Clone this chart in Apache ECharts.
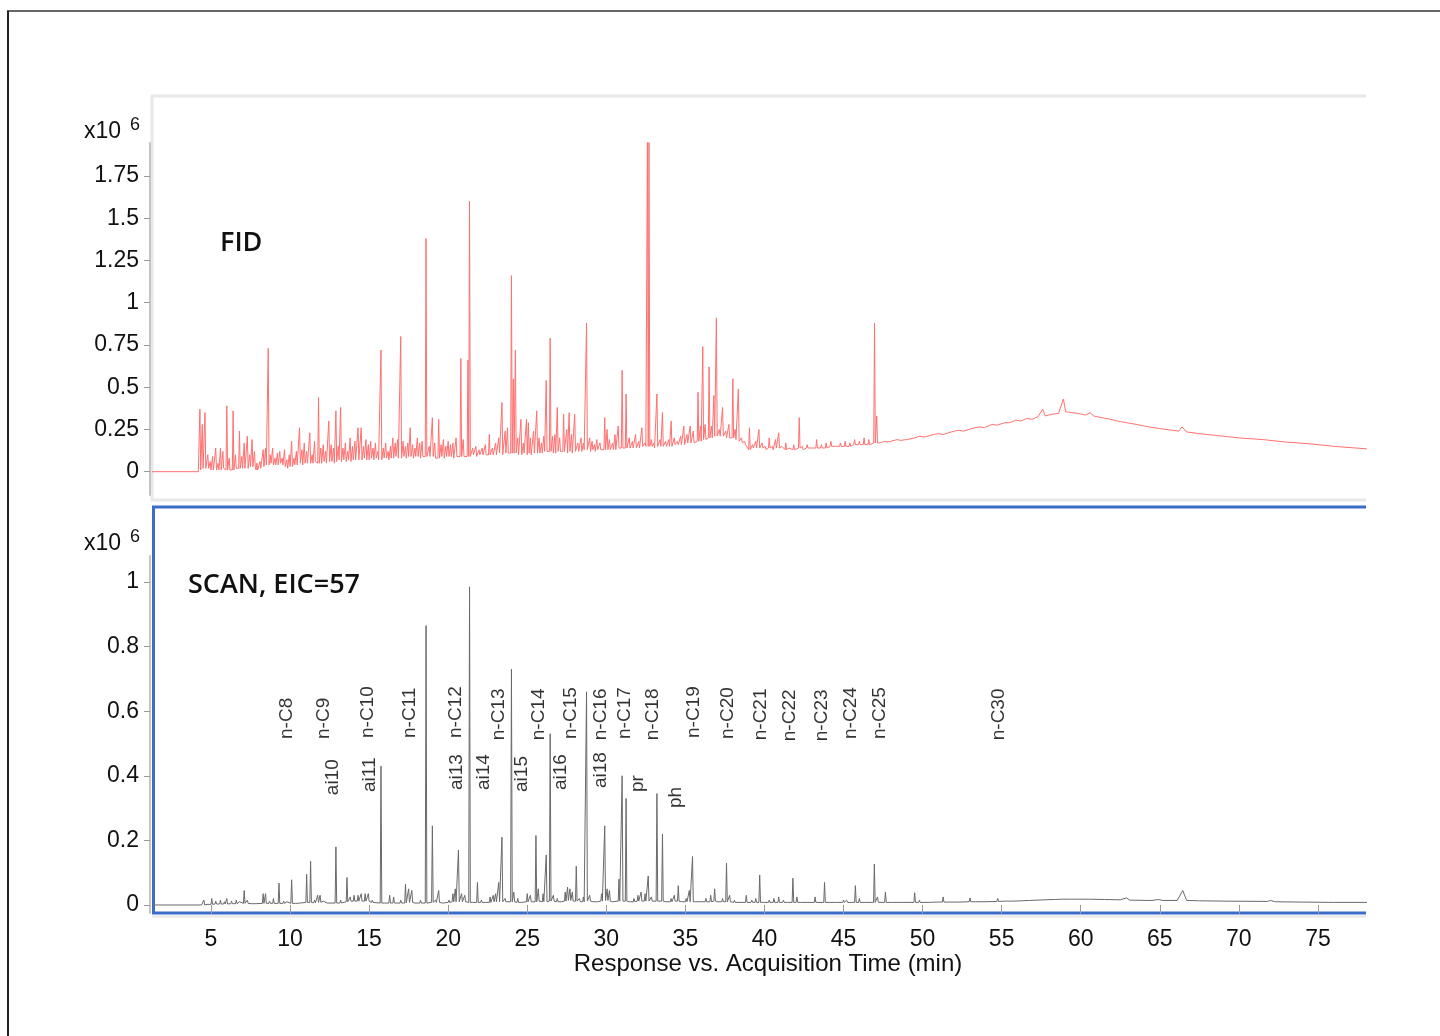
<!DOCTYPE html>
<html>
<head>
<meta charset="utf-8">
<title>FID / SCAN EIC=57</title>
<script src="https://cdn.jsdelivr.net/npm/echarts@6/dist/echarts.min.js"></script>
<style>
  html, body { margin: 0; padding: 0; background: #fff; }
  #chart { width: 1440px; height: 1036px; }
</style>
</head>
<body>
<div id="chart"></div>
<script>
// time axis (min)
const timeMin = 1.27;
const timeMax = 78.04;
const timeTicks = [5, 10, 15, 20, 25, 30, 35, 40, 45, 50, 55, 60, 65, 70, 75];
const fidTicks = [0, 0.25, 0.5, 0.75, 1, 1.25, 1.5, 1.75];
const scanTicks = [0, 0.2, 0.4, 0.6, 0.8, 1];

// FID trace: flat start, peaks [time, apex, base], slow hump after 47 min
const fidLead = [[1.27, 0], [4.2, 0]];
const fidPeaks = [
  [4.30, 0.37, 0.01], [4.45, 0.28, 0.02], [4.62, 0.35, 0.02], [4.80, 0.10, 0.02], [4.95, 0.06, 0.01],
  [5.10, 0.09, 0.01], [5.30, 0.14, 0.01], [5.45, 0.05, 0.01], [5.60, 0.14, 0.01], [5.75, 0.12, 0.02],
  [6.00, 0.39, 0.01], [6.15, 0.08, 0.01], [6.40, 0.36, 0.01], [6.55, 0.10, 0.02], [6.80, 0.24, 0.02],
  [6.95, 0.09, 0.02], [7.10, 0.17, 0.02], [7.30, 0.21, 0.02], [7.45, 0.10, 0.03], [7.60, 0.19, 0.03],
  [7.75, 0.12, 0.03], [7.90, 0.05, 0.01], [8.10, 0.06, 0.02], [8.30, 0.13, 0.03], [8.45, 0.14, 0.04],
  [8.62, 0.73, 0.04], [8.75, 0.10, 0.05], [8.90, 0.14, 0.04], [9.05, 0.08, 0.04], [9.20, 0.11, 0.04],
  [9.35, 0.12, 0.05], [9.50, 0.08, 0.04], [9.65, 0.13, 0.03], [9.80, 0.07, 0.02], [9.95, 0.10, 0.03],
  [10.10, 0.18, 0.03], [10.25, 0.08, 0.04], [10.40, 0.12, 0.04], [10.60, 0.26, 0.05], [10.75, 0.13, 0.04],
  [10.90, 0.17, 0.05], [11.05, 0.12, 0.05], [11.25, 0.23, 0.05], [11.40, 0.10, 0.05], [11.55, 0.18, 0.06],
  [11.80, 0.44, 0.05], [11.95, 0.14, 0.05], [12.10, 0.16, 0.06], [12.25, 0.12, 0.05], [12.45, 0.30, 0.06],
  [12.60, 0.16, 0.06], [12.75, 0.14, 0.05], [12.90, 0.36, 0.06], [13.05, 0.15, 0.07], [13.20, 0.38, 0.06],
  [13.35, 0.14, 0.07], [13.50, 0.17, 0.06], [13.65, 0.12, 0.07], [13.80, 0.20, 0.06], [13.95, 0.15, 0.07],
  [14.10, 0.18, 0.07], [14.30, 0.26, 0.07], [14.50, 0.26, 0.07], [14.65, 0.15, 0.08], [14.80, 0.19, 0.07],
  [14.95, 0.16, 0.07], [15.10, 0.18, 0.08], [15.25, 0.14, 0.07], [15.40, 0.17, 0.08], [15.55, 0.12, 0.07],
  [15.75, 0.72, 0.07], [15.90, 0.14, 0.08], [16.05, 0.17, 0.08], [16.20, 0.12, 0.07], [16.35, 0.15, 0.08],
  [16.50, 0.20, 0.08], [16.65, 0.17, 0.09], [16.80, 0.19, 0.08], [17.00, 0.80, 0.08], [17.15, 0.18, 0.09],
  [17.30, 0.15, 0.08], [17.45, 0.17, 0.09], [17.60, 0.26, 0.09], [17.75, 0.16, 0.08], [17.90, 0.14, 0.09],
  [18.05, 0.20, 0.09], [18.20, 0.17, 0.08], [18.35, 0.18, 0.09], [18.60, 1.38, 0.09], [18.80, 0.15, 0.09],
  [19.00, 0.32, 0.09], [19.15, 0.17, 0.08], [19.40, 0.31, 0.08], [19.55, 0.16, 0.09], [19.70, 0.19, 0.08],
  [19.85, 0.15, 0.09], [20.00, 0.18, 0.09], [20.15, 0.16, 0.09], [20.30, 0.17, 0.08], [20.50, 0.20, 0.09],
  [20.80, 0.67, 0.09], [20.95, 0.19, 0.09], [21.25, 0.66, 0.09], [21.35, 1.60, 0.09], [21.55, 0.14, 0.10],
  [21.75, 0.15, 0.09], [21.95, 0.13, 0.10], [22.15, 0.14, 0.10], [22.35, 0.16, 0.10], [22.60, 0.22, 0.10],
  [22.80, 0.14, 0.10], [23.00, 0.17, 0.10], [23.20, 0.20, 0.11], [23.40, 0.41, 0.10], [23.60, 0.24, 0.11],
  [23.75, 0.26, 0.11], [24.00, 1.16, 0.11], [24.12, 0.55, 0.11], [24.25, 0.72, 0.11], [24.40, 0.20, 0.10],
  [24.60, 0.31, 0.10], [24.75, 0.17, 0.11], [24.95, 0.31, 0.10], [25.07, 0.29, 0.11], [25.20, 0.20, 0.10],
  [25.40, 0.24, 0.11], [25.60, 0.36, 0.11], [25.75, 0.20, 0.11], [25.90, 0.17, 0.11], [26.05, 0.21, 0.12],
  [26.20, 0.54, 0.12], [26.45, 0.79, 0.12], [26.60, 0.21, 0.11], [26.75, 0.22, 0.11], [26.90, 0.38, 0.12],
  [27.05, 0.20, 0.12], [27.30, 0.34, 0.12], [27.50, 0.25, 0.11], [27.65, 0.35, 0.12], [27.80, 0.22, 0.11],
  [28.00, 0.34, 0.12], [28.20, 0.17, 0.12], [28.40, 0.20, 0.12], [28.55, 0.17, 0.13], [28.75, 0.88, 0.13],
  [28.95, 0.20, 0.12], [29.10, 0.18, 0.13], [29.25, 0.16, 0.12], [29.40, 0.19, 0.13], [29.60, 0.17, 0.13],
  [29.90, 0.32, 0.13], [30.05, 0.25, 0.13], [30.20, 0.19, 0.13], [30.40, 0.17, 0.13], [30.55, 0.22, 0.13],
  [30.75, 0.27, 0.14], [31.00, 0.60, 0.14], [31.25, 0.46, 0.14], [31.45, 0.20, 0.14], [31.65, 0.18, 0.14],
  [31.85, 0.22, 0.14], [32.05, 0.18, 0.14], [32.25, 0.26, 0.15], [32.45, 0.17, 0.15], [32.60, 1.97, 0.15],
  [32.70, 1.97, 0.15], [32.85, 0.19, 0.15], [33.00, 0.17, 0.14], [33.20, 0.46, 0.15], [33.40, 0.19, 0.15],
  [33.55, 0.35, 0.15], [33.75, 0.18, 0.15], [33.95, 0.19, 0.15], [34.10, 0.30, 0.15], [34.30, 0.20, 0.16],
  [34.50, 0.18, 0.16], [34.70, 0.21, 0.16], [34.90, 0.27, 0.16], [35.10, 0.22, 0.17], [35.30, 0.27, 0.17],
  [35.50, 0.24, 0.17], [35.80, 0.47, 0.18], [35.95, 0.27, 0.18], [36.10, 0.74, 0.19], [36.25, 0.28, 0.19],
  [36.50, 0.62, 0.20], [36.65, 0.27, 0.20], [36.80, 0.45, 0.21], [36.96, 0.91, 0.21], [37.15, 0.25, 0.21],
  [37.35, 0.38, 0.21], [37.55, 0.24, 0.20], [37.75, 0.28, 0.20], [38.00, 0.55, 0.20], [38.15, 0.25, 0.19],
  [38.35, 0.49, 0.18], [38.55, 0.20, 0.17], [38.75, 0.18, 0.16], [39.05, 0.26, 0.13], [39.25, 0.16, 0.14],
  [39.45, 0.18, 0.14], [39.65, 0.25, 0.14], [39.85, 0.17, 0.14], [40.05, 0.15, 0.13], [40.30, 0.20, 0.14],
  [40.50, 0.15, 0.13], [40.70, 0.19, 0.14], [40.90, 0.23, 0.14], [41.10, 0.15, 0.14], [41.35, 0.17, 0.13],
  [41.60, 0.15, 0.14], [41.85, 0.16, 0.13], [42.20, 0.32, 0.14], [42.40, 0.15, 0.13], [42.70, 0.16, 0.14],
  [43.00, 0.15, 0.14], [43.30, 0.19, 0.14], [43.60, 0.16, 0.14], [43.90, 0.17, 0.14], [44.20, 0.18, 0.15],
  [44.50, 0.16, 0.15], [44.80, 0.17, 0.15], [45.10, 0.18, 0.15], [45.40, 0.17, 0.15], [45.70, 0.19, 0.16],
  [46.00, 0.18, 0.16], [46.30, 0.20, 0.16], [46.60, 0.19, 0.16], [46.96, 0.88, 0.17], [47.10, 0.33, 0.17]
];
const fidTail = [
  [47.3, 0.17], [47.6, 0.18], [47.75, 0.175], [48.0, 0.18], [48.4, 0.19], [48.6, 0.185], [49.0, 0.19],
  [49.5, 0.20], [49.8, 0.21], [50.1, 0.205], [50.7, 0.22], [51.0, 0.225], [51.3, 0.22], [52.0, 0.24],
  [52.3, 0.245], [52.6, 0.24], [53.3, 0.26], [53.6, 0.265], [53.9, 0.26], [54.4, 0.28], [54.7, 0.275],
  [55.2, 0.29], [55.5, 0.29], [55.9, 0.305], [56.2, 0.30], [56.6, 0.315], [56.9, 0.31], [57.3, 0.325],
  [57.6, 0.37], [57.75, 0.33], [58.2, 0.34], [58.6, 0.345], [58.9, 0.43], [59.05, 0.355], [59.4, 0.35],
  [59.8, 0.345], [60.3, 0.335], [60.6, 0.35], [60.8, 0.33], [61.3, 0.32], [61.9, 0.31], [62.3, 0.30],
  [62.9, 0.29], [63.5, 0.28], [64.3, 0.265], [65.0, 0.255], [65.8, 0.245], [66.2, 0.24], [66.4, 0.265],
  [66.7, 0.235], [67.5, 0.225], [68.5, 0.215], [70.0, 0.20], [71.5, 0.19], [73.0, 0.175], [74.5, 0.165],
  [76.0, 0.15], [78.1, 0.135]
];

// SCAN EIC=57 trace
const scanLead = [[1.27, 0], [4.4, 0]];
const scanPeaks = [
  [4.55, 0.015, 0.0], [4.8, 0.008, 0.002], [5.05, 0.02, 0.002], [5.3, 0.012, 0.003], [5.6, 0.015, 0.003],
  [5.85, 0.01, 0.003], [6.0, 0.02, 0.003], [6.3, 0.012, 0.004], [6.6, 0.015, 0.004], [6.8, 0.01, 0.004],
  [7.1, 0.045, 0.005], [7.3, 0.015, 0.005], [7.6, 0.01, 0.004], [7.9, 0.008, 0.004], [8.3, 0.035, 0.005],
  [8.45, 0.035, 0.005], [8.7, 0.012, 0.005], [8.95, 0.02, 0.005], [9.3, 0.068, 0.005], [9.6, 0.012, 0.005],
  [9.8, 0.01, 0.005], [10.1, 0.078, 0.005], [10.4, 0.01, 0.005], [10.7, 0.012, 0.006], [11.05, 0.095, 0.008],
  [11.3, 0.135, 0.008], [11.55, 0.015, 0.007], [11.75, 0.03, 0.008], [11.9, 0.03, 0.008], [12.1, 0.012, 0.006],
  [12.4, 0.01, 0.006], [12.9, 0.18, 0.006], [13.2, 0.015, 0.006], [13.6, 0.085, 0.01], [13.8, 0.025, 0.012],
  [14.05, 0.03, 0.012], [14.3, 0.03, 0.012], [14.5, 0.035, 0.012], [14.75, 0.035, 0.012], [14.95, 0.035, 0.012],
  [15.2, 0.015, 0.008], [15.75, 0.43, 0.006], [16.0, 0.01, 0.006], [16.3, 0.03, 0.006], [16.55, 0.025, 0.006],
  [16.8, 0.012, 0.006], [17.0, 0.015, 0.006], [17.3, 0.065, 0.006], [17.5, 0.05, 0.008], [17.7, 0.045, 0.008],
  [17.95, 0.012, 0.006], [18.25, 0.015, 0.006], [18.6, 0.865, 0.006], [19.0, 0.245, 0.008], [19.2, 0.015, 0.008],
  [19.4, 0.045, 0.008], [19.7, 0.012, 0.006], [20.05, 0.015, 0.008], [20.3, 0.035, 0.01], [20.45, 0.05, 0.01],
  [20.65, 0.17, 0.01], [20.85, 0.035, 0.01], [21.05, 0.03, 0.01], [21.35, 0.985, 0.008], [21.6, 0.012, 0.008],
  [21.85, 0.07, 0.008], [22.1, 0.015, 0.008], [22.4, 0.01, 0.008], [22.65, 0.025, 0.008], [22.85, 0.03, 0.01],
  [23.0, 0.035, 0.01], [23.2, 0.07, 0.01], [23.4, 0.21, 0.01], [23.6, 0.02, 0.01], [24.0, 0.73, 0.01],
  [24.15, 0.04, 0.01], [24.4, 0.02, 0.008], [24.7, 0.012, 0.008], [25.0, 0.035, 0.01], [25.2, 0.03, 0.01],
  [25.55, 0.215, 0.01], [25.7, 0.05, 0.012], [26.0, 0.035, 0.01], [26.2, 0.155, 0.01], [26.45, 0.53, 0.012],
  [26.65, 0.03, 0.012], [26.9, 0.02, 0.01], [27.2, 0.015, 0.01], [27.4, 0.04, 0.012], [27.55, 0.055, 0.014],
  [27.7, 0.05, 0.014], [27.85, 0.04, 0.012], [28.1, 0.12, 0.012], [28.3, 0.02, 0.01], [28.55, 0.025, 0.01],
  [28.75, 0.66, 0.012], [28.95, 0.03, 0.012], [29.2, 0.012, 0.01], [29.5, 0.015, 0.01], [29.7, 0.035, 0.012],
  [29.9, 0.245, 0.014], [30.05, 0.05, 0.014], [30.2, 0.045, 0.012], [30.45, 0.015, 0.01], [30.8, 0.08, 0.012],
  [31.0, 0.40, 0.012], [31.25, 0.33, 0.012], [31.5, 0.015, 0.01], [31.75, 0.02, 0.01], [32.0, 0.03, 0.012],
  [32.2, 0.04, 0.012], [32.45, 0.035, 0.012], [32.65, 0.09, 0.012], [32.85, 0.025, 0.012], [33.2, 0.345, 0.012],
  [33.55, 0.22, 0.012], [33.8, 0.015, 0.01], [34.1, 0.02, 0.01], [34.3, 0.03, 0.012], [34.55, 0.06, 0.012],
  [34.8, 0.015, 0.01], [35.05, 0.02, 0.01], [35.25, 0.045, 0.01], [35.45, 0.15, 0.01], [35.7, 0.015, 0.01],
  [36.0, 0.012, 0.01], [36.3, 0.02, 0.01], [36.6, 0.03, 0.01], [36.85, 0.05, 0.012], [37.1, 0.015, 0.01],
  [37.35, 0.02, 0.01], [37.6, 0.13, 0.01], [37.8, 0.03, 0.01], [38.1, 0.015, 0.008], [38.5, 0.01, 0.008],
  [38.85, 0.03, 0.008], [39.2, 0.015, 0.008], [39.45, 0.02, 0.008], [39.7, 0.093, 0.008], [40.0, 0.012, 0.008],
  [40.3, 0.015, 0.008], [40.6, 0.02, 0.008], [40.9, 0.025, 0.008], [41.2, 0.015, 0.008], [41.5, 0.012, 0.008],
  [41.8, 0.083, 0.008], [42.05, 0.025, 0.008], [42.4, 0.012, 0.008], [42.8, 0.012, 0.008], [43.2, 0.025, 0.008],
  [43.8, 0.07, 0.008], [44.2, 0.012, 0.008], [44.6, 0.01, 0.008], [45.0, 0.015, 0.008], [45.2, 0.015, 0.008],
  [45.75, 0.06, 0.008], [46.0, 0.02, 0.008], [46.4, 0.01, 0.008], [46.95, 0.127, 0.008], [47.15, 0.025, 0.008],
  [47.65, 0.04, 0.008], [48.1, 0.012, 0.008], [48.7, 0.01, 0.008], [49.5, 0.038, 0.008], [49.8, 0.015, 0.008],
  [50.4, 0.012, 0.008], [50.9, 0.015, 0.009], [51.3, 0.025, 0.009], [51.8, 0.012, 0.009], [52.3, 0.012, 0.009],
  [53.0, 0.022, 0.01], [53.4, 0.015, 0.01], [54.0, 0.014, 0.01], [54.75, 0.02, 0.011], [55.3, 0.014, 0.012],
  [55.8, 0.014, 0.012], [56.3, 0.018, 0.013], [56.8, 0.016, 0.014], [57.8, 0.02, 0.016], [58.4, 0.02, 0.017],
  [58.9, 0.024, 0.018], [59.4, 0.02, 0.018], [59.9, 0.02, 0.018]
];
const scanTail = [
  [60.5, 0.018], [61.5, 0.017], [62.5, 0.016], [62.9, 0.022], [63.1, 0.015], [64.5, 0.014], [64.9, 0.017],
  [65.2, 0.014], [66.1, 0.014], [66.45, 0.045], [66.7, 0.014], [67.5, 0.013], [69.0, 0.012], [71.8, 0.011],
  [72.0, 0.014], [72.3, 0.01], [74.0, 0.009], [76.0, 0.008], [78.1, 0.008]
];

// peak annotations on the SCAN trace
const peakNames = ['n-C8', 'n-C9', 'ai10', 'n-C10', 'ai11', 'n-C11', 'n-C12', 'ai13', 'ai14', 'n-C13',
  'ai15', 'n-C14', 'ai16', 'n-C15', 'n-C16', 'ai18', 'n-C17', 'pr', 'n-C18', 'ph', 'n-C19', 'n-C20',
  'n-C21', 'n-C22', 'n-C23', 'n-C24', 'n-C25', 'n-C30'];
const peakTimes = [9.81, 12.15, 12.72, 14.94, 15.06, 17.59, 20.51, 20.57, 22.22, 23.23,
  24.68, 25.70, 27.15, 27.78, 29.62, 29.68, 31.14, 31.96, 32.91, 34.37, 35.51, 37.66,
  39.75, 41.58, 43.61, 45.44, 47.28, 54.81];
const peakLevels = [0.514, 0.514, 0.34, 0.517, 0.35, 0.517, 0.517, 0.356, 0.356, 0.51,
  0.35, 0.51, 0.356, 0.514, 0.51, 0.362, 0.514, 0.35, 0.51, 0.30, 0.517, 0.514,
  0.51, 0.507, 0.507, 0.514, 0.514, 0.51];

const PEAK_HALF_WIDTH = 0.05;

function buildTrace(lead, peaks, tail) {
  const pts = lead.slice();
  peaks.forEach(([t, apex, base]) => {
    pts.push([t - PEAK_HALF_WIDTH, base], [t, apex], [t + PEAK_HALF_WIDTH, base]);
  });
  return pts.concat(tail).sort((a, b) => a[0] - b[0]);
}

const chart = echarts.init(document.getElementById('chart'));
const labelFont = 'Liberation Sans, Arial, sans-serif';
const titleFont = 'Open Sans, Noto Sans, sans-serif';

const yAxisBase = {
  type: 'value',
  offset: 2,
  splitLine: { show: false },
  axisLine: { show: true, lineStyle: { color: '#c4c4c4', width: 2 } },
  axisTick: { show: true, length: 6, lineStyle: { color: '#9a9a9a' } },
  axisLabel: { fontSize: 23, color: '#111', fontFamily: labelFont, margin: 11, verticalAlign: 'middle', padding: [4, 0, 0, 0] }
};

const option = {
  animation: false,
  backgroundColor: '#fff',
  grid: [
    { left: 152, right: 74, top: 143, bottom: 541 },
    { left: 152, right: 74, top: 556, bottom: 123 }
  ],
  xAxis: [
    { gridIndex: 0, type: 'value', min: timeMin, max: timeMax, show: false },
    {
      gridIndex: 1, type: 'value', min: timeMin, max: timeMax,
      splitLine: { show: false },
      axisLine: { show: false },
      axisTick: { show: true, length: 9, customValues: timeTicks, lineStyle: { color: '#9a9a9a' } },
      axisLabel: { customValues: timeTicks, fontSize: 23, color: '#111', fontFamily: labelFont, margin: 15 },
      name: 'Response vs. Acquisition Time (min)',
      nameLocation: 'middle',
      nameGap: 33,
      nameTextStyle: { fontSize: 24, color: '#111', fontFamily: labelFont, padding: [0, 0, 0, 18] }
    }
  ],
  yAxis: [
    Object.assign({}, yAxisBase, {
      gridIndex: 0, min: -0.138, max: 1.945,
      axisTick: Object.assign({}, yAxisBase.axisTick, { customValues: fidTicks }),
      axisLabel: Object.assign({}, yAxisBase.axisLabel, { customValues: fidTicks })
    }),
    Object.assign({}, yAxisBase, {
      gridIndex: 1, min: -0.0248, max: 1.0805,
      axisTick: Object.assign({}, yAxisBase.axisTick, { customValues: scanTicks }),
      axisLabel: Object.assign({}, yAxisBase.axisLabel, { customValues: scanTicks })
    })
  ],
  series: [
    {
      name: 'FID', type: 'line', xAxisIndex: 0, yAxisIndex: 0,
      data: buildTrace(fidLead, fidPeaks, fidTail),
      showSymbol: false, sampling: 'none', silent: true, clip: true,
      lineStyle: { color: '#ff7070', width: 1 }
    },
    {
      name: 'SCAN, EIC=57', type: 'line', xAxisIndex: 1, yAxisIndex: 1,
      data: buildTrace(scanLead, scanPeaks, scanTail),
      showSymbol: false, sampling: 'none', silent: true, clip: true,
      lineStyle: { color: '#6a6a6a', width: 1 }
    },
    {
      name: 'peaks', type: 'scatter', xAxisIndex: 1, yAxisIndex: 1,
      symbolSize: 0, silent: true,
      data: peakTimes.map((t, i) => [t, peakLevels[i], peakNames[i]]),
      label: {
        show: true,
        formatter: p => p.data[2],
        rotate: 90,
        position: [0, 0],
        align: 'left',
        verticalAlign: 'middle',
        fontSize: 19,
        color: '#000',
        fontFamily: labelFont
      }
    }
  ],
  graphic: [
    // outer frame
    { type: 'line', shape: { x1: 7, y1: 11, x2: 1440, y2: 11 }, style: { stroke: '#666', lineWidth: 2 } },
    { type: 'line', shape: { x1: 8, y1: 11, x2: 8, y2: 1036 }, style: { stroke: '#222', lineWidth: 2 } },
    // FID panel box (open on the right)
    { type: 'polyline', z: -1, shape: { points: [[1366, 96], [152, 96], [152, 500], [1366, 500]] },
      style: { stroke: '#e8e8e8', lineWidth: 3, fill: null } },
    // SCAN panel box
    { type: 'line', z: -1, shape: { x1: 152, y1: 916.5, x2: 1366, y2: 916.5 }, style: { stroke: '#e6e6e6', lineWidth: 2 } },
    { type: 'polyline', shape: { points: [[1366, 507], [153.5, 507], [153.5, 913], [1366, 913]] },
      style: { stroke: '#3a6dc9', lineWidth: 3, fill: null } },
    // panel titles
    { type: 'text', x: 220, y: 243, style: { text: 'FID', font: '600 27px ' + titleFont, fill: '#111', verticalAlign: 'middle' } },
    { type: 'text', x: 188, y: 585, style: { text: 'SCAN, EIC=57', font: '600 27px ' + titleFont, fill: '#111', verticalAlign: 'middle' } },
    // axis multipliers
    { type: 'text', x: 84, y: 132, style: { text: 'x10', font: '23px ' + labelFont, fill: '#111', verticalAlign: 'middle' } },
    { type: 'text', x: 130, y: 125, style: { text: '6', font: '18px ' + labelFont, fill: '#111', verticalAlign: 'middle' } },
    { type: 'text', x: 84, y: 544, style: { text: 'x10', font: '23px ' + labelFont, fill: '#111', verticalAlign: 'middle' } },
    { type: 'text', x: 130, y: 537, style: { text: '6', font: '18px ' + labelFont, fill: '#111', verticalAlign: 'middle' } }
  ]
};

chart.setOption(option);
</script>
</body>
</html>
